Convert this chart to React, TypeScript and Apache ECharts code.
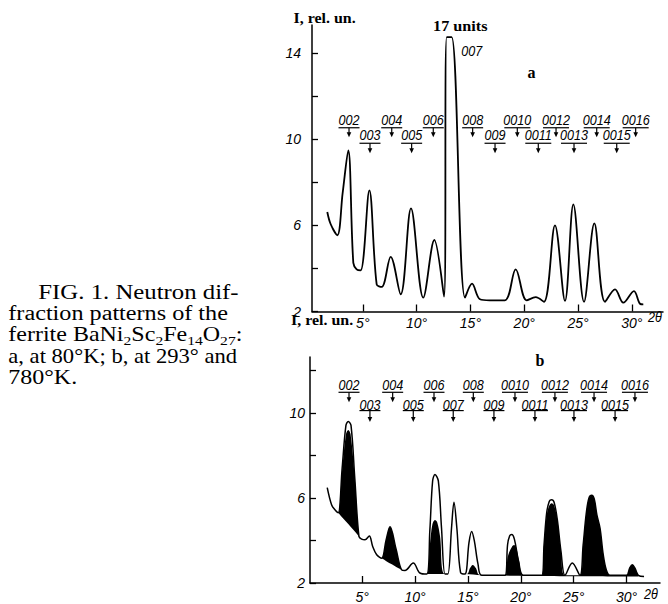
import React, { useEffect, useRef } from 'react';
import * as echarts from 'echarts';

// ---------- Panel a (80 K) ----------
const aTwoTheta = [1.70, 2.02, 2.63, 3.13, 3.65, 4.12, 4.43, 4.80, 5.61, 6.29, 6.76, 7.59, 8.52, 9.48, 10.62, 11.65, 12.55, 12.80, 13.26, 14.50, 15.15, 15.89, 16.80, 18.20, 19.21, 20.23, 21.07, 21.84, 22.86, 23.79, 24.57, 25.56, 26.52, 27.51, 28.44, 29.21, 30.20, 30.76, 31.07];
const aIntensity = [6.62, 6.05, 5.54, 7.51, 9.48, 4.26, 3.96, 3.91, 7.62, 3.26, 3.14, 4.54, 2.80, 6.79, 2.64, 5.32, 2.69, 14.74, 14.74, 2.64, 3.29, 2.57, 2.52, 2.52, 3.96, 2.52, 2.67, 2.45, 6.00, 2.49, 6.97, 2.45, 6.09, 2.45, 3.03, 2.41, 2.95, 2.36, 2.33];

const aIdxLabels = ['002', '003', '004', '005', '006', '008', '009', '0010', '0011', '0012', '0013', '0014', '0015', '0016'];
const aIdxPos = [3.72, 5.67, 7.69, 9.54, 11.55, 15.21, 17.29, 19.36, 21.31, 22.96, 24.63, 26.74, 28.60, 30.36];
const aIdxRow = [0, 1, 0, 1, 0, 0, 1, 0, 1, 0, 1, 0, 1, 0];
const aRowLevel = [10.53, 9.81];

// ---------- Panel b (293 K outline, 780 K filled) ----------
const bOutX = [1.69, 2.11, 2.42, 2.73, 3.10, 3.46, 3.68, 3.94, 4.30, 4.69, 4.95, 5.26, 5.67, 5.99, 6.37, 6.84, 7.25, 7.63, 8.20, 8.73, 9.04, 9.83, 10.46, 11.10, 11.40, 11.66, 11.88, 12.20, 12.50, 12.83, 13.10, 13.45, 13.68, 13.95, 14.30, 14.72, 15.10, 15.35, 15.60, 15.95, 16.30, 18.50, 18.75, 18.95, 19.14, 19.40, 19.80, 20.24, 21.98, 22.20, 22.45, 22.70, 22.92, 23.15, 23.45, 23.80, 24.18, 24.87, 25.60, 25.90, 26.20, 26.45, 26.71, 26.95, 27.20, 27.50, 27.80, 28.10, 28.44, 30.00, 30.30, 30.55, 30.80, 31.12, 31.66];
const bOutI = [6.49, 5.67, 5.45, 5.31, 7.40, 9.41, 9.60, 9.41, 6.90, 4.19, 4.06, 4.03, 4.21, 3.72, 3.33, 3.17, 4.00, 4.65, 3.60, 2.62, 2.59, 2.94, 2.47, 2.42, 4.50, 6.80, 7.10, 6.80, 4.60, 2.42, 2.42, 4.60, 5.80, 4.60, 2.50, 2.42, 3.90, 4.42, 4.00, 2.90, 2.36, 2.36, 3.80, 4.22, 4.28, 4.05, 3.00, 2.36, 2.36, 3.80, 5.30, 5.85, 5.92, 5.80, 5.00, 3.50, 2.36, 2.94, 2.36, 3.79, 5.30, 6.00, 6.13, 5.95, 5.20, 4.57, 3.33, 2.60, 2.36, 2.36, 2.70, 2.86, 2.70, 2.36, 2.31];

const bDarkX = [2.11, 2.42, 2.73, 3.10, 3.46, 3.68, 3.90, 4.30, 4.69, 4.95, 5.26, 5.67, 5.99, 6.37, 6.84, 7.25, 7.63, 8.20, 8.73, 9.04, 9.83, 10.46, 11.10, 11.40, 11.64, 11.88, 12.10, 12.36, 12.83, 14.90, 15.20, 15.45, 15.75, 16.10, 18.50, 18.75, 19.00, 19.36, 19.55, 19.85, 20.24, 21.98, 22.20, 22.45, 22.70, 22.92, 23.15, 23.45, 23.80, 24.18, 25.60, 25.90, 26.20, 26.45, 26.71, 26.95, 27.20, 27.50, 27.80, 28.10, 28.44, 30.00, 30.30, 30.55, 30.80, 31.12];
const bDarkI = [5.67, 5.45, 5.31, 7.30, 9.00, 9.20, 9.00, 6.90, 4.19, 4.06, 4.03, 4.21, 3.72, 3.33, 3.17, 4.00, 4.65, 3.60, 2.62, 2.59, 2.94, 2.47, 2.42, 3.80, 4.76, 4.96, 4.85, 4.20, 2.42, 2.42, 2.70, 2.85, 2.70, 2.38, 2.36, 3.20, 3.55, 3.79, 3.70, 3.00, 2.36, 2.36, 3.80, 5.20, 5.65, 5.75, 5.65, 5.00, 3.50, 2.36, 2.36, 3.79, 5.30, 6.00, 6.13, 5.95, 5.20, 4.57, 3.33, 2.60, 2.36, 2.36, 2.70, 2.86, 2.70, 2.36];

const bBaseX = [1.69, 2.11, 2.42, 2.73, 3.20, 3.68, 4.20, 4.69, 4.95, 5.26, 5.67, 5.99, 6.37, 6.84, 7.80, 8.73, 9.04, 9.83, 10.46, 11.10, 14.72, 16.30, 31.66];
const bBaseI = [6.49, 5.67, 5.45, 5.31, 5.03, 4.78, 4.48, 4.19, 4.06, 4.03, 4.21, 3.72, 3.33, 3.17, 2.88, 2.62, 2.59, 2.94, 2.47, 2.42, 2.42, 2.36, 2.31];

const bIdxLabels = ['002', '003', '004', '005', '006', '007', '008', '009', '0010', '0011', '0012', '0013', '0014', '0015', '0016'];
const bIdxPos = [3.75, 5.73, 7.88, 9.83, 11.79, 13.61, 15.51, 17.46, 19.45, 21.34, 23.23, 25.03, 26.93, 28.92, 30.80];
const bIdxRow = [0, 1, 0, 1, 0, 1, 0, 1, 0, 1, 0, 1, 0, 1, 0];
const bRowLevel = [10.97, 10.11];

// ---------- Axis ticks ----------
const xTickValues = [5, 10, 15, 20, 25, 30];
const aYTicks = [2, 4, 6, 8, 10, 12, 14];
const aYLabels = [2, 6, 10, 14];
const bYTicks = [2, 4, 6, 8, 10, 12];
const bYLabels = [2, 6, 10];

const SANS = '"Liberation Sans", Arial, sans-serif';
const SERIF = '"Liberation Serif", "Times New Roman", serif';

const zip = (xs: number[], ys: number[]) => xs.map((x, i) => [x, ys[i]]);

function xAxisFor(grid: number, min: number, max: number, margin: number) {
  return {
    type: 'value', gridIndex: grid, min, max, z: 3,
    axisLine: { lineStyle: { color: '#000', width: 1.5 } },
    axisTick: { inside: true, length: 7, customValues: xTickValues, lineStyle: { color: '#000', width: 1.3 } },
    axisLabel: {
      customValues: xTickValues, formatter: (v: number) => `${v}°`, margin,
      color: '#000', fontFamily: SANS, fontStyle: 'italic', fontSize: 14,
    },
    splitLine: { show: false },
  };
}

function yAxisFor(grid: number, max: number, ticks: number[], labels: number[], margin: number) {
  return {
    type: 'value', gridIndex: grid, min: 2, max, z: 3,
    axisLine: { show: true, lineStyle: { color: '#000', width: 1.5 } },
    axisTick: { show: true, inside: true, length: 6, customValues: ticks, lineStyle: { color: '#000', width: 1.3 } },
    axisLabel: {
      customValues: labels, formatter: (v: number) => String(v), margin,
      color: '#000', fontFamily: SANS, fontStyle: 'italic', fontSize: 14,
    },
    splitLine: { show: false },
  };
}

function indexSeries(axis: number, pos: number[], labels: string[], rows: number[], levels: number[], arrowLen: number[], textLift: number[]) {
  return {
    type: 'custom', xAxisIndex: axis, yAxisIndex: axis, silent: true, clip: false, z: 5,
    data: pos.map((x, i) => [x, levels[rows[i]]]),
    renderItem: (params: any, api: any) => {
      const i = params.dataIndex;
      const p = api.coord([api.value(0), api.value(1)]);
      const lab = labels[i];
      const row = rows[i];
      const w = lab.length === 3 ? 21 : 26;
      const len = arrowLen[row];
      return {
        type: 'group',
        children: [
          {
            type: 'text', x: p[0], y: p[1] - textLift[row], scaleX: 0.84,
            style: {
              text: lab, font: `italic 15px ${SANS}`, fill: '#000',
              align: 'center', verticalAlign: 'bottom', textAlign: 'center', textVerticalAlign: 'bottom',
            },
          },
          { type: 'line', shape: { x1: p[0] - w / 2, y1: p[1], x2: p[0] + w / 2, y2: p[1] }, style: { stroke: '#000', lineWidth: 1.2 } },
          { type: 'line', shape: { x1: p[0], y1: p[1], x2: p[0], y2: p[1] + len - 4 }, style: { stroke: '#000', lineWidth: 1.2 } },
          {
            type: 'polygon',
            shape: { points: [[p[0] - 2.3, p[1] + len - 5], [p[0] + 2.3, p[1] + len - 5], [p[0], p[1] + len]] },
            style: { fill: '#000' },
          },
        ],
      };
    },
  };
}

function txt(text: string, x: number, y: number, font: string, align = 'left', scaleX = 1, rich?: any) {
  return {
    type: 'text', x, y, scaleX, silent: true,
    style: {
      text, font, fill: '#000', rich,
      align, verticalAlign: 'middle', textAlign: align, textVerticalAlign: 'middle',
      lineHeight: rich ? 24 : undefined,
    },
  };
}

function buildOption() {
  const capFont = `20px ${SERIF}`;
  return {
    animation: false,
    backgroundColor: '#ffffff',
    grid: [
      { left: 312, top: 25, width: 351, height: 286.5 },
      { left: 310, top: 357, width: 350, height: 227 },
    ],
    xAxis: [xAxisFor(0, 0.28, 32.9, 4), xAxisFor(1, 0.06, 33.17, 7)],
    yAxis: [yAxisFor(0, 15.3, aYTicks, aYLabels, 11), yAxisFor(1, 12.63, bYTicks, bYLabels, 5)],
    series: [
      {
        name: '80 K', type: 'line', xAxisIndex: 0, yAxisIndex: 0, data: zip(aTwoTheta, aIntensity),
        smooth: 0.35, symbol: 'none', lineStyle: { color: '#000', width: 1.8 }, z: 2,
      },
      {
        name: '780 K', type: 'line', xAxisIndex: 1, yAxisIndex: 1, data: zip(bDarkX, bDarkI),
        smooth: 0.35, symbol: 'none', lineStyle: { width: 0, opacity: 0 },
        areaStyle: { color: '#000', opacity: 1, origin: 'start' }, z: 2,
      },
      {
        name: 'background', type: 'line', xAxisIndex: 1, yAxisIndex: 1, data: zip(bBaseX, bBaseI),
        smooth: 0.35, symbol: 'none', lineStyle: { width: 0, opacity: 0 },
        areaStyle: { color: '#fff', opacity: 1, origin: 'start' }, z: 2,
      },
      {
        name: '293 K', type: 'line', xAxisIndex: 1, yAxisIndex: 1, data: zip(bOutX, bOutI),
        smooth: 0.35, symbol: 'none', lineStyle: { color: '#000', width: 1.5 }, z: 2,
      },
      indexSeries(0, aIdxPos, aIdxLabels, aIdxRow, aRowLevel, [9.5, 10], [1, 1]),
      indexSeries(1, bIdxPos, bIdxLabels, bIdxRow, bRowLevel, [10, 11.5], [0, -1.5]),
    ],
    graphic: {
      elements: [
        txt('FIG. 1. Neutron dif-', 38.3, 292, capFont, 'left', 1.24),
        txt('fraction patterns of the', 8.3, 313.5, capFont, 'left', 1.21),
        txt('ferrite BaNi{s|2}Sc{s|2}Fe{s|14}O{s|27}:', 8.3, 334.5, capFont, 'left', 1.2, {
          s: { fontSize: 13, fontFamily: SERIF, verticalAlign: 'bottom', lineHeight: 14 },
        }),
        txt('a, at 80°K; b, at 293° and', 8.3, 356, capFont, 'left', 1.13),
        txt('780°K.', 8.3, 377.5, capFont, 'left', 1.2),
        txt('I, rel. un.', 293.5, 18, `bold 14px ${SERIF}`, 'left', 1.14),
        txt('I, rel. un.', 291, 320, `bold 14px ${SERIF}`, 'left', 1.14),
        txt('17 units', 460.3, 26, `bold 15px ${SERIF}`, 'center', 1.08),
        txt('007', 471.7, 51, `italic 15px ${SANS}`, 'center', 0.84),
        txt('a', 531.5, 72, `bold 16px ${SERIF}`, 'center'),
        txt('b', 540, 360, `bold 16px ${SERIF}`, 'center'),
        txt('2θ', 655, 317, `italic 14px ${SANS}`, 'center', 0.9),
        txt('2θ', 651, 594, `italic 14px ${SANS}`, 'center', 0.9),
      ],
    },
  };
}

export default function App() {
  const ref = useRef<HTMLDivElement>(null);
  useEffect(() => {
    if (!ref.current) return;
    const chart = echarts.init(ref.current, null, { renderer: 'svg' });
    chart.setOption(buildOption() as any);
    return () => chart.dispose();
  }, []);
  return <div ref={ref} style={{ position: 'absolute', left: 0, top: 0, width: 668, height: 604 }} />;
}
